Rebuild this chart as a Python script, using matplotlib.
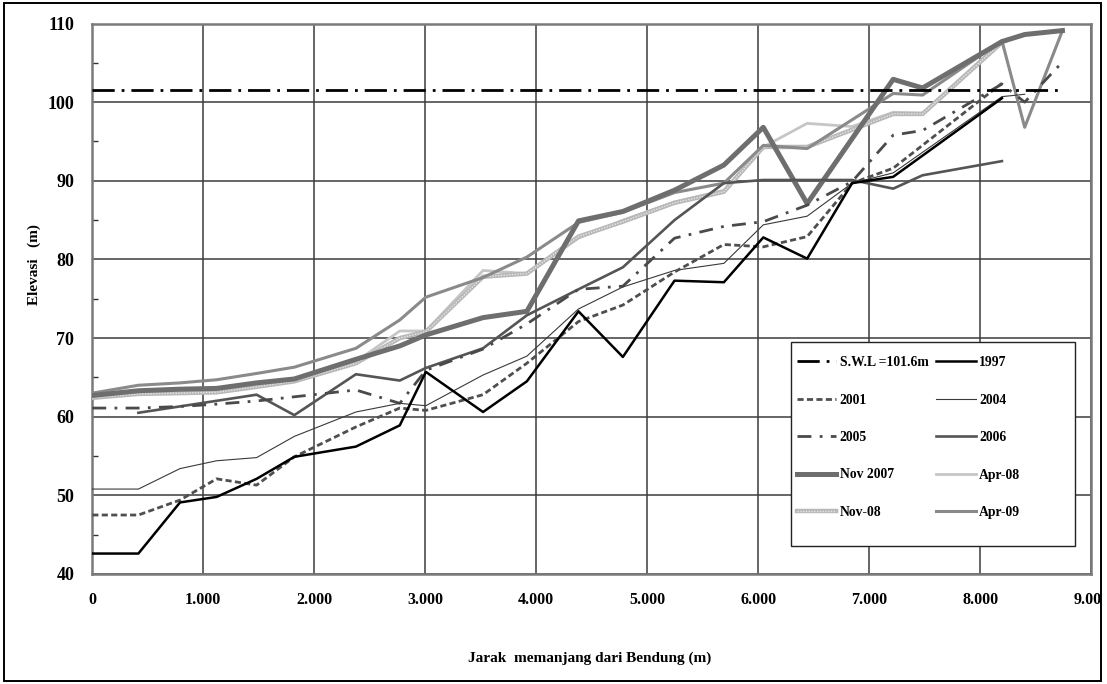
import matplotlib
matplotlib.use("Agg")
import matplotlib.pyplot as plt
from matplotlib.patches import Rectangle
from matplotlib.legend_handler import HandlerTuple
from matplotlib.ticker import MultipleLocator

plt.rcParams['font.family'] = ['Liberation Serif', 'DejaVu Serif']
plt.rcParams['font.weight'] = 'bold'

# ---------------- data ----------------
swl_level = 101.6
swl_x = [0, 8740]

x_1997 = [0, 415, 790, 1120, 1480, 1820, 2375, 2770, 3005, 3520, 3915, 4380, 4780, 5245, 5690, 6045, 6440, 6845, 7215, 8195]
y_1997 = [42.6, 42.6, 49.1, 49.8, 52.1, 54.9, 56.2, 58.9, 65.7, 60.6, 64.5, 73.4, 67.6, 77.3, 77.1, 82.8, 80.1, 89.7, 90.5, 100.5]

x_2001 = [0, 415, 790, 1120, 1480, 1820, 2375, 2770, 3005, 3520, 3915, 4380, 4780, 5245, 5690, 6045, 6440, 6845, 7215, 8195]
y_2001 = [47.5, 47.5, 49.4, 52.1, 51.3, 54.9, 58.7, 61.1, 60.8, 62.8, 66.8, 72.1, 74.2, 78.4, 81.9, 81.6, 82.9, 89.7, 91.6, 102.4]

x_2004 = [0, 415, 790, 1120, 1480, 1820, 2375, 2770, 3005, 3520, 3915, 4380, 4780, 5245, 5690, 6045, 6440, 6845, 7215, 8195, 8400]
y_2004 = [50.8, 50.8, 53.4, 54.4, 54.8, 57.5, 60.6, 61.7, 61.4, 65.3, 67.7, 73.7, 76.5, 78.6, 79.5, 84.4, 85.5, 89.7, 91.0, 100.7, 101.0]

x_2005 = [0, 415, 790, 1120, 1480, 2375, 2770, 3005, 3520, 3915, 4380, 4780, 5245, 5690, 6045, 6440, 6845, 7215, 7480, 8195, 8400, 8740]
y_2005 = [61.1, 61.1, 61.3, 61.6, 62.0, 63.4, 61.7, 65.9, 68.6, 71.8, 76.2, 76.6, 82.7, 84.2, 84.8, 86.9, 89.9, 95.8, 96.4, 102.3, 100.0, 105.1]

x_2006 = [415, 1480, 1820, 2375, 2770, 3005, 3520, 3915, 4380, 4780, 5245, 5690, 6045, 6440, 6845, 7215, 7480, 8195]
y_2006 = [60.5, 62.8, 60.2, 65.4, 64.6, 66.2, 68.7, 72.9, 76.2, 79.0, 85.0, 89.7, 90.1, 90.1, 90.1, 89.0, 90.7, 92.5]

x_nov2007 = [0, 415, 790, 1120, 1480, 1820, 2375, 2770, 3005, 3520, 3915, 4380, 4780, 5245, 5690, 6045, 6440, 7215, 7480, 8195, 8400, 8740]
y_nov2007 = [62.7, 63.3, 63.5, 63.6, 64.3, 64.8, 67.3, 69.0, 70.4, 72.6, 73.4, 84.9, 86.1, 88.8, 92.0, 96.8, 87.1, 102.9, 101.8, 107.7, 108.6, 109.1]

x_apr08 = [0, 415, 790, 1120, 1480, 1820, 2375, 2770, 3005, 3520, 3915, 4380, 4780, 5245, 5690, 6045, 6440, 6845, 7215, 7480, 8195]
y_apr08 = [62.5, 63.0, 63.2, 63.3, 64.0, 64.8, 67.0, 70.9, 70.9, 78.6, 78.2, 82.7, 85.0, 87.3, 88.8, 94.3, 97.3, 96.9, 98.7, 98.6, 107.8]

x_nov08 = [0, 415, 790, 1120, 1480, 1820, 2375, 2770, 3005, 3520, 3915, 4380, 4780, 5245, 5690, 6045, 6440, 7215, 7480, 8195]
y_nov08 = [62.4, 62.9, 63.0, 63.1, 63.8, 64.5, 66.8, 70.0, 70.8, 77.8, 78.2, 82.9, 84.8, 87.2, 88.6, 94.3, 94.3, 98.5, 98.5, 107.6]

x_apr09 = [0, 415, 790, 1120, 1480, 1820, 2375, 2770, 3005, 3520, 3915, 4380, 4780, 5245, 5690, 6045, 6440, 7215, 7480, 8195, 8400, 8740]
y_apr09 = [63.0, 64.0, 64.3, 64.7, 65.5, 66.3, 68.7, 72.3, 75.2, 77.7, 80.3, 84.7, 86.0, 88.5, 89.7, 94.5, 94.1, 101.1, 100.9, 107.8, 96.8, 109.1]

x_ticks = [0, 1000, 2000, 3000, 4000, 5000, 6000, 7000, 8000, 9000]
x_tick_labels = ['0', '1.000', '2.000', '3.000', '4.000', '5.000', '6.000', '7.000', '8.000', '9.000']
y_ticks = [40, 50, 60, 70, 80, 90, 100, 110]

# ---------------- figure ----------------
W, H = 1107, 684
AX_L, AX_R, AX_T, AX_B = 92.3, 1091.3, 23.5, 574.0
fig = plt.figure(figsize=(W / 100, H / 100), dpi=100)
ax = fig.add_axes([AX_L / W, 1 - AX_B / H, (AX_R - AX_L) / W, (AX_B - AX_T) / H])


def axfrac(px, py):
    return (px - AX_L) / (AX_R - AX_L), (AX_B - py) / (AX_B - AX_T)


ax.set_xlim(0, 9000)
ax.set_ylim(40, 110)

l_swl, = ax.plot(swl_x, [swl_level, swl_level], color='black', lw=2.0,
                 dashes=(8, 2.5, 1, 2.5), zorder=5)
l_apr08, = ax.plot(x_apr08, y_apr08, color='#c6c6c6', lw=2.0, zorder=3)
l_nov08a, = ax.plot(x_nov08, y_nov08, color='#b8b8b8', lw=3.2, zorder=3)
l_nov08b, = ax.plot(x_nov08, y_nov08, color='#e6e6e6', lw=1.0, dashes=(1, 1), zorder=3)
l_apr09, = ax.plot(x_apr09, y_apr09, color='#8a8a8a', lw=2.2, zorder=3)
l_nov2007, = ax.plot(x_nov2007, y_nov2007, color='#6e6e6e', lw=3.6, zorder=3)
l_2006, = ax.plot(x_2006, y_2006, color='#555555', lw=1.9, zorder=4)
l_2005, = ax.plot(x_2005, y_2005, color='#4a4a4a', lw=2.0, dashes=(5, 3, 1, 3), zorder=4)
l_2004, = ax.plot(x_2004, y_2004, color='#3a3a3a', lw=0.8, zorder=4)
l_2001, = ax.plot(x_2001, y_2001, color='#4f4f4f', lw=2.0, dashes=(2.2, 1.2), zorder=4)
l_1997, = ax.plot(x_1997, y_1997, color='black', lw=1.8, zorder=4)

# grid, ticks, spines
ax.set_xticks(x_ticks, x_tick_labels)
ax.set_yticks(y_ticks)
ax.yaxis.set_minor_locator(MultipleLocator(5))
ax.grid(True, which='major', color='#3c3c3c', lw=1.1)
ax.set_axisbelow(True)
ax.tick_params(axis='x', length=0, pad=13, labelsize=11.5)
ax.tick_params(axis='y', which='major', length=0, pad=13, labelsize=13)
ax.tick_params(axis='y', which='minor', direction='in', length=4, width=1, color='#333333')
for s in ax.spines.values():
    s.set_color('#7a7a7a')
    s.set_linewidth(1.8)

# figure frame (the last x tick label is cut by it, as in the reference)
frame = Rectangle((4 / W, 3 / H), (1101 - 4) / W, (681 - 3) / H, transform=fig.transFigure,
                  fill=False, edgecolor='black', lw=1.4, zorder=10)
fig.patches.append(frame)
for lab in ax.get_xticklabels():
    lab.set_clip_on(True)
    lab.set_clip_path(frame)

# axis titles
fig.text(590 / W, 1 - 658 / H, 'Jarak  memanjang dari Bendung (m)', ha='center', va='center',
         fontsize=11, fontweight='bold')
fig.text(34 / W, 1 - 265 / H, 'Elevasi   (m)', ha='center', va='center', rotation=90,
         fontsize=11, fontweight='bold')

# legend box
bx0, by0 = axfrac(791, 546)
bx1, by1 = axfrac(1075, 342)
ax.add_patch(Rectangle((bx0, by0), bx1 - bx0, by1 - by0, transform=ax.transAxes,
                       facecolor='white', edgecolor='#222222', lw=1.0, zorder=6))

handles = [l_swl, l_2001, l_2005, l_nov2007, (l_nov08a, l_nov08b),
           l_1997, l_2004, l_2006, l_apr08, l_apr09]
labels = ['S.W.L =101.6m', '2001', '2005', 'Nov 2007', 'Nov-08',
          '1997', '2004', '2006', 'Apr-08', 'Apr-09']
leg = ax.legend(handles, labels, ncol=2, loc='upper left',
                bbox_to_anchor=axfrac(797, 356), borderaxespad=0, borderpad=0,
                frameon=False, handlelength=2.9, handletextpad=0.25, labelspacing=1.8,
                columnspacing=0.55,
                handler_map={tuple: HandlerTuple(ndivide=1)},
                prop={'family': 'Liberation Serif', 'weight': 'bold', 'size': 9.8})
leg.set_zorder(7)

fig.savefig('out.png', dpi=100)
